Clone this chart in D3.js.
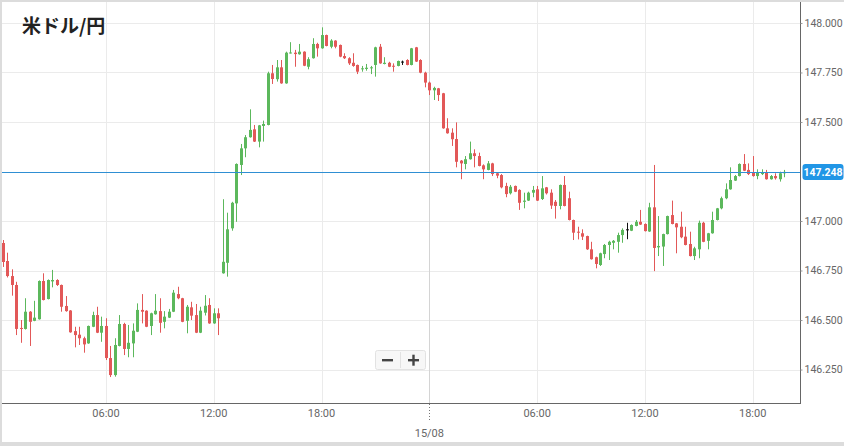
<!DOCTYPE html>
<html><head><meta charset="utf-8">
<script src="https://cdn.jsdelivr.net/npm/d3@7"></script>
<style>body{margin:0;background:#fff}svg{display:block}</style>
</head><body><svg id="c" width="844" height="446"></svg>
<script>
const title = "米ドル/円";
const lastPrice = 147.248;
const yTicks = [146.25, 146.5, 146.75, 147.0, 147.5, 147.75, 148.0];
const xTickHours = [6, 12, 18, 24, 30, 36, 42];
const xTickLabels = ["06:00", "12:00", "18:00", "15/08", "06:00", "12:00", "18:00"];
// 15-minute candles from 14/08 00:15
const open = [146.889,146.798,146.722,146.677,146.460,146.455,146.542,146.496,146.504,146.697,146.606,146.695,146.702,146.677,146.571,146.548,146.444,146.426,146.408,146.382,146.466,146.525,146.436,146.470,146.308,146.222,146.369,146.480,146.354,146.382,146.441,146.551,146.547,146.470,146.529,146.545,146.491,146.512,146.542,146.631,146.610,146.496,146.564,146.525,146.436,146.537,146.576,146.483,146.534,146.736,146.789,146.963,147.089,147.283,147.367,147.423,147.463,147.401,147.480,147.485,147.746,147.716,147.776,147.695,147.848,147.850,147.842,147.855,147.779,147.822,147.894,147.872,147.939,147.880,147.911,147.889,147.833,147.822,147.799,147.788,147.766,147.768,147.771,147.788,147.880,147.793,147.799,147.784,147.783,147.805,147.813,147.788,147.877,147.813,147.749,147.699,147.660,147.670,147.645,147.468,147.446,147.414,147.305,147.288,147.312,147.342,147.328,147.281,147.258,147.291,147.241,147.232,147.177,147.140,147.177,147.157,147.097,147.103,147.143,147.160,147.111,147.170,147.143,147.097,147.076,147.182,147.115,147.005,146.946,146.938,146.924,146.857,146.817,146.778,146.833,146.879,146.890,146.895,146.929,146.958,146.951,146.975,146.996,146.985,146.947,147.069,146.867,146.871,146.934,147.030,146.988,146.971,146.921,146.884,146.823,146.857,146.991,146.900,146.938,147.005,147.064,147.115,147.160,147.204,147.227,147.288,147.258,147.244,147.227,147.237,147.244,147.211,147.227,147.211,147.241];
const high = [146.904,146.840,146.756,146.693,146.500,146.610,146.545,146.597,146.700,146.736,146.705,146.753,146.706,146.679,146.621,146.550,146.466,146.466,146.416,146.472,146.542,146.567,146.517,146.509,146.369,146.408,146.525,146.486,146.475,146.483,146.584,146.631,146.549,146.537,146.631,146.610,146.545,146.556,146.652,146.668,146.612,146.576,146.592,146.581,146.567,146.626,146.610,146.559,146.559,147.110,147.042,147.097,147.291,147.389,147.434,147.564,147.485,147.485,147.507,147.754,147.788,147.813,147.813,147.855,147.903,147.864,147.894,147.857,147.827,147.923,147.900,147.978,147.941,147.918,147.913,147.891,147.847,147.827,147.847,147.790,147.783,147.793,147.783,147.880,147.894,147.827,147.804,147.796,147.810,147.810,147.817,147.874,147.879,147.817,147.754,147.704,147.678,147.672,147.647,147.519,147.468,147.498,147.308,147.328,147.401,147.362,147.345,147.286,147.303,147.294,147.243,147.237,147.193,147.182,147.179,147.160,147.143,147.148,147.177,147.177,147.227,147.172,147.160,147.106,147.184,147.227,147.148,147.007,146.971,146.958,146.926,146.895,146.820,146.840,146.884,146.900,146.904,146.941,146.963,146.991,146.983,147.005,147.056,146.988,147.092,147.283,147.025,146.936,147.027,147.103,146.990,147.047,146.971,146.946,146.870,147.002,146.996,146.940,147.047,147.066,147.123,147.190,147.271,147.232,147.291,147.338,147.291,147.328,147.261,147.261,147.258,147.232,147.241,147.249,147.258];
const low = [146.768,146.715,146.623,146.424,146.385,146.452,146.369,146.494,146.502,146.599,146.604,146.665,146.672,146.542,146.542,146.436,146.362,146.374,146.335,146.380,146.464,146.434,146.390,146.298,146.212,146.214,146.367,146.323,146.312,146.312,146.439,146.483,146.464,146.424,146.527,146.436,146.458,146.510,146.540,146.605,146.489,146.433,146.500,146.434,146.434,146.523,146.481,146.481,146.424,146.734,146.719,146.951,146.996,147.232,147.322,147.421,147.399,147.372,147.401,147.483,147.692,147.704,147.693,147.693,147.846,147.779,147.840,147.782,147.766,147.820,147.830,147.870,147.882,147.872,147.872,147.827,147.818,147.788,147.779,147.742,147.754,147.759,147.742,147.729,147.794,147.791,147.777,147.754,147.781,147.788,147.786,147.786,147.803,147.746,147.675,147.636,147.611,147.606,147.466,147.441,147.379,147.271,147.211,147.261,147.310,147.271,147.276,147.211,147.256,147.227,147.216,147.165,147.120,147.134,147.146,147.056,147.064,147.101,147.120,147.101,147.106,147.134,147.061,147.012,147.059,147.074,147.003,146.904,146.907,146.904,146.854,146.805,146.761,146.773,146.812,146.803,146.857,146.840,146.890,146.908,146.949,146.973,146.980,146.947,146.945,146.747,146.823,146.773,146.932,146.983,146.837,146.913,146.877,146.821,146.803,146.812,146.893,146.857,146.936,147.003,147.059,147.110,147.158,147.202,147.225,147.252,147.232,147.224,147.211,147.232,147.209,147.209,147.209,147.199,147.221];
const close = [146.793,146.722,146.677,146.455,146.456,146.542,146.491,146.512,146.697,146.601,146.702,146.702,146.677,146.567,146.545,146.438,146.424,146.408,146.377,146.470,146.525,146.436,146.470,146.308,146.222,146.374,146.480,146.354,146.385,146.446,146.551,146.542,146.466,146.534,146.547,146.486,146.517,146.542,146.638,146.610,146.491,146.567,146.522,146.436,146.547,146.572,146.483,146.534,146.509,146.794,146.958,147.092,147.288,147.367,147.423,147.460,147.401,147.483,147.490,147.746,147.717,147.776,147.695,147.850,147.851,147.843,147.855,147.784,147.817,147.894,147.872,147.939,147.884,147.911,147.880,147.830,147.822,147.796,147.783,147.754,147.771,147.774,147.776,147.877,147.796,147.799,147.779,147.779,147.808,147.805,147.788,147.872,147.805,147.749,147.699,147.660,147.672,147.636,147.468,147.443,147.413,147.299,147.291,147.312,147.342,147.328,147.278,147.261,147.291,147.237,147.229,147.170,147.136,147.173,147.148,147.092,147.103,147.143,147.157,147.103,147.165,147.140,147.078,147.076,147.182,147.076,147.005,146.941,146.941,146.921,146.857,146.807,146.783,146.837,146.879,146.895,146.900,146.929,146.955,146.958,146.980,146.996,146.982,146.949,147.069,146.864,146.874,146.934,147.025,146.985,146.968,146.918,146.879,146.823,146.862,146.991,146.895,146.938,147.005,147.064,147.115,147.160,147.207,147.227,147.288,147.254,147.237,147.227,147.244,147.244,147.211,147.227,147.216,147.241,147.248];

const svg = d3.select("#c");
const W = 844, H = 446, plotR = 800, plotB = 403;
const t0 = Date.UTC(2024, 7, 14, 0, 0);
const hr = h => new Date(t0 + h * 3600e3);
const x = d3.scaleUtc().domain([hr(0.1), hr(44.633)]).range([0, plotR]);
const y = d3.scaleLinear().domain([146.081, 148.116]).range([plotB, 0]);

const candles = open.map((o, i) => ({t: hr(0.25 * (i + 1)), o, h: high[i], l: low[i], c: close[i]}));

// grid
const g = svg.append("g");
g.selectAll(".hg").data(yTicks).join("line")
  .attr("x1", 0).attr("x2", plotR)
  .attr("y1", d => Math.round(y(d)) + 0.5).attr("y2", d => Math.round(y(d)) + 0.5)
  .attr("stroke", "#ebebeb");
g.selectAll(".vg").data(xTickHours).join("line")
  .attr("x1", d => Math.round(x(hr(d))) + 0.5).attr("x2", d => Math.round(x(hr(d))) + 0.5)
  .attr("y1", 0).attr("y2", plotB)
  .attr("stroke", d => d === 24 ? "#d4d4d4" : "#ebebeb");

// candles
const green = "#5cb85c", red = "#e25858";
const col = d => d.c > d.o ? green : (d.c < d.o ? red : "#111");
const cg = svg.append("g");
cg.selectAll(".w").data(candles).join("line")
  .attr("x1", d => Math.round(x(d.t)) + 0.5).attr("x2", d => Math.round(x(d.t)) + 0.5)
  .attr("y1", d => y(d.h)).attr("y2", d => y(d.l))
  .attr("stroke", col).attr("stroke-width", 1);
cg.selectAll(".b").data(candles).join("rect")
  .attr("x", d => Math.round(x(d.t)) - 1).attr("width", 3)
  .attr("y", d => Math.min(y(d.o), y(d.c)))
  .attr("height", d => Math.max(1, Math.abs(y(d.o) - y(d.c))))
  .attr("fill", col);

// last price line
svg.append("line").attr("x1", 0).attr("x2", plotR)
  .attr("y1", Math.round(y(lastPrice)) + 0.5).attr("y2", Math.round(y(lastPrice)) + 0.5)
  .attr("stroke", "#2f8fd3").attr("stroke-width", 1);

// right axis
const ya = d3.axisRight(y).tickValues(yTicks).tickFormat(d3.format(".3f")).tickSize(2).tickPadding(2);
const yg = svg.append("g").attr("transform", `translate(${plotR + 0.5},0)`).call(ya);
yg.select(".domain").attr("stroke", "#666").attr("d", `M0,0V${plotB + 0.5}`);
yg.selectAll(".tick line").attr("stroke", "#999");
yg.selectAll("text").attr("fill", "#666").style("font", "10.5px Roboto, Arial, sans-serif");

// price label
const ly = y(lastPrice);
svg.append("rect").attr("x", 802.5).attr("y", ly - 8).attr("width", 41).attr("height", 16)
  .attr("rx", 3).attr("fill", "#2196e6");
svg.append("text").attr("x", 823).attr("y", ly + 4).attr("text-anchor", "middle")
  .attr("fill", "#fff").style("font", "bold 10.5px Roboto, Arial, sans-serif").text(lastPrice.toFixed(3));

// bottom axis
svg.append("line").attr("x1", 0).attr("x2", plotR + 1).attr("y1", plotB + 0.5).attr("y2", plotB + 0.5).attr("stroke", "#666");
const xt = svg.append("g");
xt.selectAll("text").data(xTickHours).join("text")
  .attr("x", d => x(hr(d))).attr("y", (d, i) => xTickLabels[i].includes("/") ? 437 : 417)
  .attr("text-anchor", "middle").attr("fill", "#666")
  .style("font", "11px Roboto, Arial, sans-serif")
  .text((d, i) => xTickLabels[i]);
xt.selectAll("line").data(xTickHours.filter(h => h === 24)).join("line")
  .attr("x1", d => Math.round(x(hr(d))) + 0.5).attr("x2", d => Math.round(x(hr(d))) + 0.5)
  .attr("y1", plotB + 1).attr("y2", 422).attr("stroke", "#777").attr("stroke-dasharray", "1,2");

// zoom buttons
const zb = svg.append("g").attr("transform", "translate(375,350)");
zb.append("rect").attr("x", 0.5).attr("y", 0.5).attr("width", 50).attr("height", 19).attr("rx", 2)
  .attr("fill", "#f7f7f7").attr("stroke", "#e2e2e2");
zb.append("line").attr("x1", 25.5).attr("x2", 25.5).attr("y1", 2).attr("y2", 18).attr("stroke", "#e2e2e2");
zb.append("rect").attr("x", 7).attr("y", 9).attr("width", 11).attr("height", 2.4).attr("fill", "#444");
zb.append("rect").attr("x", 33).attr("y", 9).attr("width", 11).attr("height", 2.4).attr("fill", "#444");
zb.append("rect").attr("x", 37.3).attr("y", 4.7).attr("width", 2.4).attr("height", 11).attr("fill", "#444");

// title
svg.append("text").attr("x", 22).attr("y", 33).attr("fill", "#222")
  .style("font", "bold 19px 'Noto Sans CJK JP', sans-serif").text(title);

// frame
svg.append("rect").attr("x", 0).attr("y", 0).attr("width", W).attr("height", 2).attr("fill", "#dcdcdc");
svg.append("rect").attr("x", 0).attr("y", 0).attr("width", 2).attr("height", H).attr("fill", "#dcdcdc");
svg.append("rect").attr("x", 0).attr("y", 442).attr("width", W).attr("height", 4).attr("fill", "#dcdcdc");
</script></body></html>
